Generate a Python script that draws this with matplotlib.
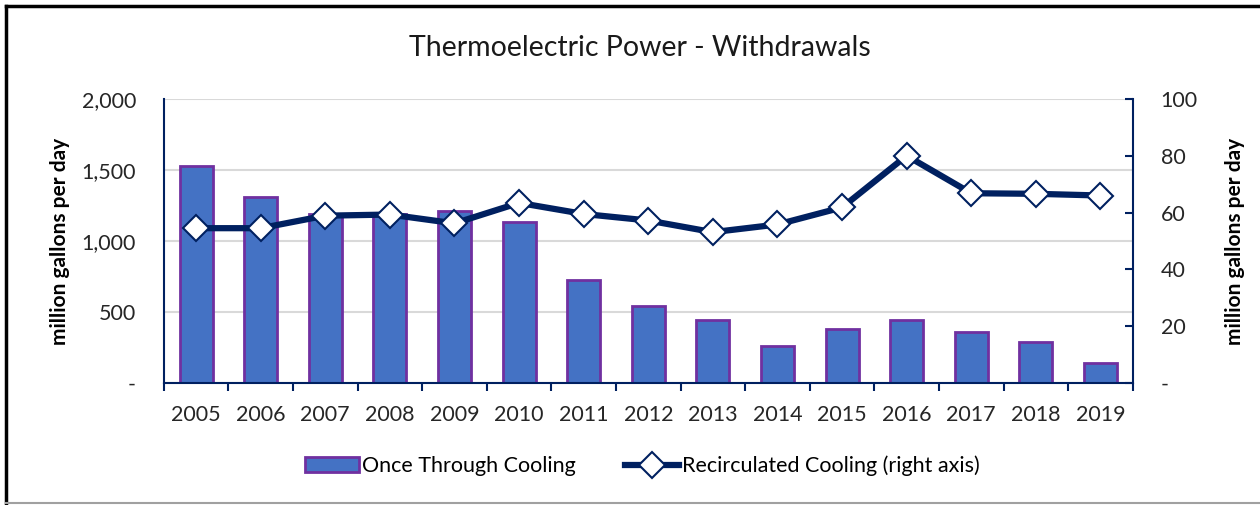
import matplotlib.pyplot as plt
import numpy as np
from matplotlib.lines import Line2D
from matplotlib.ticker import FuncFormatter

plt.rcParams['font.family'] = ['Lato', 'DejaVu Sans']

# Data
years = ['2005', '2006', '2007', '2008', '2009', '2010', '2011', '2012',
         '2013', '2014', '2015', '2016', '2017', '2018', '2019']
once_through = [1530, 1310, 1190, 1190, 1210, 1130, 725, 542,
                444, 263, 380, 442, 357, 291, 143]
recirculated = [54.5, 54.5, 58.9, 59.3, 56.2, 63.4, 59.5, 57.2,
                53.1, 55.8, 61.8, 80.0, 66.8, 66.6, 66.0]

navy = '#002060'
x = np.arange(len(years))

fig = plt.figure(figsize=(12.6, 5.05), dpi=100)
ax = fig.add_axes([0.130, 0.2416, 0.769, 0.5625])
ax2 = ax.twinx()

# bars on left axis
bars = ax.bar(x, once_through, 0.51, color='#4472C4', edgecolor='#7030A0',
              linewidth=2, label='Once Through Cooling', zorder=2)
ax.set_xlim(-0.5, len(years) - 0.5)
ax.set_ylim(0, 2000)
ax.set_yticks([0, 500, 1000, 1500, 2000])
ax.yaxis.set_major_formatter(FuncFormatter(lambda v, p: '-' if v == 0 else f'{v:,.0f}'))
ax.grid(axis='y', color='#D9D9D9', linewidth=1.5, zorder=0)
ax.set_axisbelow(True)
ax.tick_params(axis='y', length=0, labelsize=15.5, pad=20, labelcolor='#262626')

# x ticks at category boundaries, labels at centres
ax.set_xticks(np.arange(-0.5, len(years), 1.0))
ax.set_xticklabels([])
ax.set_xticks(x, minor=True)
ax.set_xticklabels(years, minor=True)
ax.tick_params(axis='x', which='major', length=6, width=1.5, color=navy, direction='out')
ax.tick_params(axis='x', which='minor', length=0, labelsize=15.5, pad=16, labelcolor='#262626')

for s in ['top', 'right']:
    ax.spines[s].set_visible(False)
ax.spines['left'].set_color(navy)
ax.spines['bottom'].set_color(navy)
ax.spines['left'].set_linewidth(1.5)
ax.spines['bottom'].set_linewidth(1.5)

# line on right axis
ax2.plot(x, recirculated, color=navy, linewidth=4.5, marker='D', markersize=13.5,
         markerfacecolor='white', markeredgecolor=navy, markeredgewidth=1.5,
         label='Recirculated Cooling (right axis)', zorder=3)
ax2.set_ylim(0, 100)
ax2.set_yticks([0, 20, 40, 60, 80, 100])
ax2.yaxis.set_major_formatter(FuncFormatter(lambda v, p: '-' if v == 0 else f'{v:.0f}'))
ax2.tick_params(axis='y', direction='in', length=6, width=1.5, color=navy,
                labelsize=15.5, pad=20, labelcolor='#262626')
for s in ['top', 'left', 'bottom']:
    ax2.spines[s].set_visible(False)
ax2.spines['right'].set_color(navy)
ax2.spines['right'].set_linewidth(1.5)

ax.set_ylabel('million gallons per day', fontsize=15, fontweight='bold',
              color='#000000', labelpad=8)
ax2.set_ylabel('million gallons per day', fontsize=15, fontweight='bold',
               color='#000000', labelpad=20)

fig.text(0.508, 0.905, 'Thermoelectric Power - Withdrawals', ha='center', va='center',
         fontsize=20.5, color='#1a1a1a')

handles = [bars, ax2.get_lines()[0]]
fig.legend(handles, [h.get_label() for h in handles], loc='center',
           bbox_to_anchor=(0.51, 0.077), ncol=2, frameon=False, fontsize=15.5,
           handlelength=2.5, handleheight=0.7, handletextpad=0.15, columnspacing=2.3)

# chart frame
fig.add_artist(Line2D([0.005, 0.005], [0.004, 0.988], color='black', linewidth=2.5))
fig.add_artist(Line2D([0.005, 1.0], [0.988, 0.988], color='black', linewidth=2.5))
fig.add_artist(Line2D([0.005, 1.0], [0.004, 0.004], color='#A0A0A0', linewidth=1.5))

fig.savefig('out.png', dpi=100)
